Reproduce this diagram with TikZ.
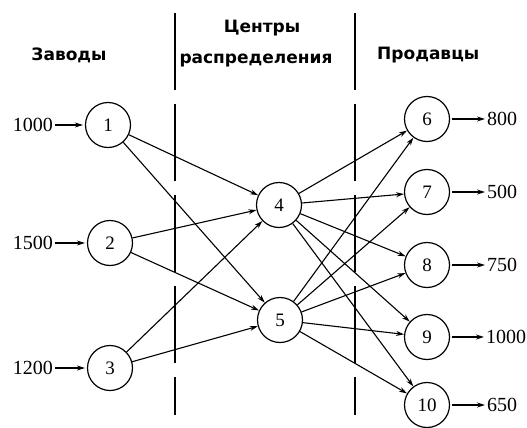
\documentclass[tikz,border=0pt]{standalone}
\usepackage{fontspec}
\setmainfont{Liberation Serif}
\newfontfamily\hdrfont{DejaVu Sans}
\usetikzlibrary{arrows.meta}
\begin{document}
\begin{tikzpicture}[x=1pt,y=-1pt,
  vertex/.style={circle, draw, line width=1.2pt, minimum size=45pt, inner sep=0pt, font=\fontsize{19}{20}\selectfont},
  edge/.style={-{Stealth[length=8pt,width=5pt]}, line width=1.1pt},
  num/.style={font=\fontsize{20}{22}\selectfont, inner sep=0pt},
  hdr/.style={font=\hdrfont\bfseries\fontsize{17}{19}\selectfont, inner sep=0pt},
  divider/.style={line width=1.7pt, dash pattern=on 77pt off 14pt}]
\useasboundingbox (0,0) rectangle (527,428);
% dividers
\draw[divider] (175,13) -- (175,415);
\draw[divider] (355,13) -- (355,415);
% headers
\node[hdr] (hz) at (69,55) {Заводы};
\node[hdr] (hc1) at (262,28) {Центры};
\node[hdr] (hc2) at (256,61) {распределения};
\node[hdr, anchor=west] (hp) at (377,55) {Продавцы};
% nodes
\node[vertex] (n1) at (108,125) {1};
\node[vertex] (n2) at (110,243) {2};
\node[vertex] (n3) at (110,368) {3};
\node[vertex] (n4) at (279,205) {4};
\node[vertex] (n5) at (280,320) {5};
\node[vertex] (n6) at (427,119) {6};
\node[vertex] (n7) at (427,192) {7};
\node[vertex] (n8) at (427,265) {8};
\node[vertex] (n9) at (427,337) {9};
\node[vertex] (n10) at (427,405) {10};
% supplies
\node[num, anchor=east] (s1) at (53,125) {1000};
\node[num, anchor=east] (s2) at (53,243) {1500};
\node[num, anchor=east] (s3) at (53,368) {1200};
% demands
\node[num, anchor=west] (d6) at (487,119) {800};
\node[num, anchor=west] (d7) at (487,192) {500};
\node[num, anchor=west] (d8) at (487,265) {750};
\node[num, anchor=west] (d9) at (486,337) {1000};
\node[num, anchor=west] (d10) at (487,405) {650};
% arrows
\foreach \a/\b in {s1/n1,s2/n2,s3/n3,n6/d6,n7/d7,n8/d8,n9/d9,n10/d10}
  \draw[edge, shorten >=2pt, shorten <=2pt] (\a) -- (\b);
\foreach \a/\b in {n1/n4,n1/n5,n2/n4,n2/n5,n3/n4,n3/n5,
  n4/n6,n4/n7,n4/n8,n4/n9,n4/n10,n5/n6,n5/n7,n5/n8,n5/n9,n5/n10}
  \draw[edge] (\a) -- (\b);
\end{tikzpicture}
\end{document}
